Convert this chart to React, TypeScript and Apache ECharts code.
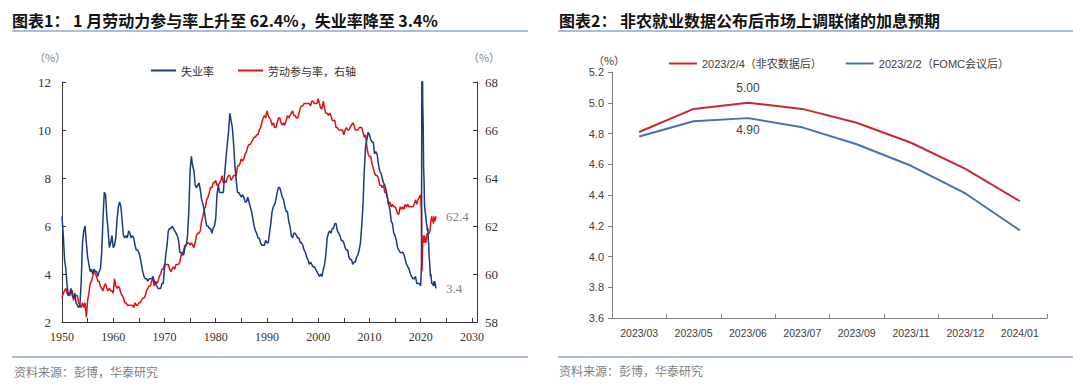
import React, { useEffect, useRef } from "react";
import * as echarts from "echarts";

// ---- Chart 1 data: US unemployment rate and labor force participation rate ----
// Quarterly values, 1950Q1 .. 2019Q4
const unemploymentQuarterly = [
  6.4, 5.6, 4.6, 4.2, 3.5, 3.1, 3.2, 3.4, 3.1, 3.0, 3.2, 2.8, 2.7, 2.6, 2.7, 3.7,
  5.3, 5.8, 6.0, 5.3, 4.7, 4.4, 4.1, 4.2, 4.0, 4.2, 4.1, 4.1, 3.9, 4.1, 4.2, 4.9,
  6.3, 7.4, 7.3, 6.4, 5.8, 5.1, 5.3, 5.6, 5.1, 5.2, 5.5, 6.3, 6.8, 7.0, 6.8, 6.2,
  5.6, 5.5, 5.6, 5.5, 5.8, 5.7, 5.5, 5.6, 5.5, 5.2, 5.0, 5.0, 4.9, 4.7, 4.4, 4.1,
  3.9, 3.8, 3.8, 3.7, 3.8, 3.8, 3.8, 3.9, 3.7, 3.6, 3.5, 3.4, 3.4, 3.4, 3.6, 3.6,
  4.2, 4.8, 5.2, 5.8, 5.9, 5.9, 6.0, 5.9, 5.8, 5.7, 5.6, 5.4, 4.9, 4.9, 4.8, 4.8,
  5.1, 5.2, 5.6, 6.6, 8.3, 8.9, 8.5, 8.3, 7.7, 7.6, 7.7, 7.8, 7.5, 7.1, 6.9, 6.7,
  6.3, 6.0, 6.0, 5.9, 5.9, 5.7, 5.9, 6.0, 6.3, 7.3, 7.7, 7.4, 7.4, 7.4, 7.4, 8.2,
  8.8, 9.4, 9.9, 10.7, 10.4, 10.1, 9.4, 8.5, 7.9, 7.4, 7.4, 7.3, 7.2, 7.3, 7.2, 7.0,
  7.0, 7.2, 7.0, 6.8, 6.6, 6.3, 6.0, 5.8, 5.7, 5.5, 5.5, 5.3, 5.2, 5.2, 5.2, 5.4,
  5.3, 5.3, 5.7, 6.1, 6.6, 6.8, 6.9, 7.1, 7.4, 7.6, 7.6, 7.4, 7.2, 7.1, 6.8, 6.6,
  6.6, 6.2, 6.0, 5.6, 5.5, 5.7, 5.7, 5.6, 5.5, 5.5, 5.3, 5.3, 5.2, 5.0, 4.9, 4.7,
  4.6, 4.4, 4.5, 4.4, 4.3, 4.3, 4.2, 4.1, 4.0, 3.9, 4.0, 3.9, 4.2, 4.4, 4.8, 5.5,
  5.7, 5.8, 5.7, 5.9, 5.9, 6.1, 6.1, 5.8, 5.7, 5.6, 5.4, 5.4, 5.3, 5.1, 5.0, 5.0,
  4.7, 4.6, 4.6, 4.4, 4.5, 4.5, 4.7, 4.8, 5.0, 5.3, 6.0, 6.9, 8.3, 9.3, 9.6, 9.9,
  9.8, 9.6, 9.5, 9.5, 9.0, 9.1, 9.0, 8.6, 8.3, 8.2, 8.0, 7.8, 7.7, 7.5, 7.2, 6.9,
  6.7, 6.2, 6.1, 5.7, 5.6, 5.4, 5.1, 5.0, 4.9, 4.9, 4.9, 4.8, 4.6, 4.4, 4.3, 4.2,
  4.0, 3.9, 3.8, 3.8, 3.9, 3.6, 3.6, 3.6,
];
// Monthly values, 2020-01 .. 2023-01
const unemploymentMonthly = [
  3.5, 3.5, 4.4, 14.7, 13.2, 11.0, 10.2, 8.4, 7.9, 6.9, 6.7, 6.7,
  6.4, 6.2, 6.1, 6.1, 5.8, 5.9, 5.4, 5.2, 4.7, 4.5, 4.2, 3.9,
  4.0, 3.8, 3.6, 3.6, 3.6, 3.6, 3.5, 3.7, 3.5, 3.7, 3.6, 3.5,
  3.4,
];
const participationQuarterly = [
  59.0, 59.2, 59.3, 59.4, 59.2, 59.1, 59.1, 59.3, 59.3, 58.9, 59.1, 59.1, 59.1, 58.8, 58.7, 58.6,
  58.8, 58.6, 58.8, 58.2, 58.9, 59.2, 59.6, 59.7, 59.9, 60.2, 60.0, 59.9, 59.7, 59.7, 59.5, 59.4,
  59.3, 59.5, 59.6, 59.4, 59.3, 59.4, 59.3, 59.3, 59.2, 59.8, 59.5, 59.4, 59.5, 59.4, 59.2, 59.1,
  59.0, 58.8, 58.8, 58.7, 58.7, 58.7, 58.7, 58.7, 58.6, 58.8, 58.7, 58.7, 58.8, 58.8, 58.9, 59.0,
  59.0, 59.1, 59.3, 59.4, 59.5, 59.5, 59.7, 59.8, 59.5, 59.7, 59.6, 59.7, 59.9, 60.0, 60.2, 60.2,
  60.4, 60.4, 60.4, 60.4, 60.2, 60.1, 60.2, 60.3, 60.2, 60.4, 60.4, 60.4, 60.5, 60.8, 60.8, 61.0,
  61.2, 61.2, 61.3, 61.3, 61.2, 61.3, 61.2, 61.1, 61.3, 61.6, 61.7, 61.7, 61.8, 62.2, 62.4, 62.7,
  62.8, 63.1, 63.2, 63.4, 63.6, 63.6, 63.8, 63.8, 63.9, 63.7, 63.7, 63.8, 63.9, 64.1, 63.8, 63.9,
  63.8, 64.0, 64.1, 64.1, 63.9, 64.0, 64.1, 64.1, 64.1, 64.5, 64.5, 64.6, 64.8, 64.7, 64.8, 65.0,
  65.1, 65.3, 65.4, 65.4, 65.5, 65.6, 65.7, 65.7, 65.8, 65.8, 66.0, 66.1, 66.3, 66.5, 66.6, 66.5,
  66.8, 66.6, 66.5, 66.4, 66.2, 66.3, 66.1, 66.1, 66.3, 66.5, 66.5, 66.3, 66.2, 66.3, 66.2, 66.4,
  66.6, 66.5, 66.6, 66.7, 66.8, 66.6, 66.6, 66.5, 66.5, 66.7, 66.9, 67.0, 67.0, 67.1, 67.1, 67.1,
  67.1, 67.1, 67.0, 67.2, 67.2, 67.1, 67.1, 67.1, 67.3, 67.1, 66.9, 66.9, 67.2, 66.9, 66.7, 66.7,
  66.6, 66.7, 66.6, 66.4, 66.4, 66.4, 66.1, 66.1, 66.0, 66.0, 66.0, 66.0, 65.8, 66.0, 66.1, 66.0,
  66.0, 66.1, 66.2, 66.3, 66.2, 66.0, 66.0, 66.0, 66.1, 66.1, 66.1, 65.9, 65.7, 65.8, 65.3, 65.0,
  64.9, 64.9, 64.6, 64.4, 64.2, 64.1, 64.1, 64.0, 63.7, 63.7, 63.6, 63.7, 63.4, 63.4, 63.2, 62.9,
  63.0, 62.8, 62.9, 62.8, 62.8, 62.7, 62.5, 62.5, 62.8, 62.7, 62.8, 62.7, 62.9, 62.8, 62.9, 62.8,
  62.8, 62.8, 62.8, 62.9, 63.1, 62.9, 63.1, 63.2,
];
const participationMonthly = [
  63.3, 63.3, 62.6, 60.1, 60.7, 61.3, 61.4, 61.6, 61.3, 61.6, 61.5, 61.5,
  61.3, 61.4, 61.5, 61.7, 61.6, 61.6, 61.7, 61.7, 61.7, 61.7, 61.8, 62.0,
  62.2, 62.3, 62.4, 62.2, 62.3, 62.2, 62.1, 62.4, 62.3, 62.2, 62.2, 62.3,
  62.4,
];
const quarterlyStartYear = 1950;
const monthlyStartYear = 2020;

// ---- Chart 2 data: market-implied fed funds path ----
const fedCategories = ["2023/03", "2023/05", "2023/06", "2023/07", "2023/09", "2023/11", "2023/12", "2024/01"];
const afterPayrolls = [4.81, 4.96, 5.0, 4.96, 4.87, 4.74, 4.57, 4.36];
const afterFomc = [4.78, 4.88, 4.9, 4.84, 4.73, 4.59, 4.41, 4.17];
const labeledIndex = 2;

const SERIF = '"Liberation Serif", "Times New Roman", "Noto Sans CJK SC", serif';
const CJK = '"Noto Sans CJK SC", sans-serif';
const SANS = '"Liberation Sans", Arial, "Noto Sans CJK SC", sans-serif';

export default function App() {
  const ref = useRef<HTMLDivElement>(null);

  useEffect(() => {
    if (!ref.current) return;
    const chart = echarts.init(ref.current, undefined, { renderer: "svg" });

    const urData = [
      ...unemploymentQuarterly.map((v, i) => [quarterlyStartYear + i / 4, v]),
      ...unemploymentMonthly.map((v, i) => [monthlyStartYear + i / 12, v]),
    ];
    const lfData = [
      ...participationQuarterly.map((v, i) => [quarterlyStartYear + i / 4, v]),
      ...participationMonthly.map((v, i) => [monthlyStartYear + i / 12, v]),
    ];

    const axisColor = "#404040";
    const pointLabel = (pos: string, dist: number) => ({
      show: true,
      position: pos,
      distance: dist,
      formatter: (p: any) => Number(p.value).toFixed(2),
      color: axisColor,
      fontFamily: SANS,
      fontSize: 12,
    });

    const option: any = {
      animation: false,
      backgroundColor: "#ffffff",
      grid: [
        { left: 62, right: 1080 - 477, top: 82, bottom: 390 - 322 },
        { left: 612, right: 1080 - 1047, top: 72, bottom: 390 - 318 },
      ],
      legend: [
        {
          data: ["失业率", "劳动参与率，右轴"],
          left: 146,
          top: 60,
          icon: "rect",
          itemWidth: 25,
          itemHeight: 2,
          itemGap: 24,
          textStyle: { fontFamily: CJK, fontSize: 11, color: "#333" },
        },
        {
          data: ["2023/2/4（非农数据后）", "2023/2/2（FOMC会议后）"],
          left: 664,
          top: 53,
          icon: "rect",
          itemWidth: 28,
          itemHeight: 2,
          itemGap: 24,
          textStyle: { fontFamily: SANS, fontSize: 11, color: "#404040" },
        },
      ],
      xAxis: [
        {
          type: "value",
          gridIndex: 0,
          min: 1950,
          max: 2031,
          interval: 5,
          axisLine: { show: true, lineStyle: { color: "#333", width: 1 } },
          axisTick: { show: true, inside: true, length: 4, lineStyle: { color: "#333" } },
          axisLabel: {
            color: "#333",
            fontFamily: SERIF,
            fontSize: 12,
            margin: 9,
            formatter: (v: number) => (v % 10 === 0 ? String(v) : ""),
          },
          splitLine: { show: false },
        },
        {
          type: "category",
          gridIndex: 1,
          data: fedCategories,
          boundaryGap: true,
          axisLine: { show: true, lineStyle: { color: "#7f7f7f", width: 1 } },
          axisTick: { show: true, inside: true, length: 4, lineStyle: { color: "#7f7f7f" } },
          axisLabel: { color: axisColor, fontFamily: SANS, fontSize: 10.5, margin: 10 },
        },
      ],
      yAxis: [
        {
          type: "value",
          gridIndex: 0,
          min: 2,
          max: 12,
          interval: 2,
          axisLine: { show: true, lineStyle: { color: "#333", width: 1 } },
          axisTick: { show: true, inside: true, length: 4, lineStyle: { color: "#333" } },
          axisLabel: { color: "#333", fontFamily: SERIF, fontSize: 13, margin: 11 },
          splitLine: { show: false },
        },
        {
          type: "value",
          gridIndex: 0,
          position: "right",
          min: 58,
          max: 68,
          interval: 2,
          axisLine: { show: true, lineStyle: { color: "#333", width: 1 } },
          axisTick: { show: true, inside: true, length: 4, lineStyle: { color: "#333" } },
          axisLabel: { color: "#333", fontFamily: SERIF, fontSize: 13, margin: 8 },
          splitLine: { show: false },
        },
        {
          type: "value",
          gridIndex: 1,
          min: 3.6,
          max: 5.2,
          interval: 0.2,
          axisLine: { show: true, lineStyle: { color: "#7f7f7f", width: 1 } },
          axisTick: { show: true, inside: false, length: 4, lineStyle: { color: "#7f7f7f" } },
          axisLabel: {
            color: axisColor,
            fontFamily: SANS,
            fontSize: 11,
            margin: 8,
            formatter: (v: number) => v.toFixed(1),
          },
          splitLine: { show: false },
        },
      ],
      series: [
        {
          name: "失业率",
          type: "line",
          xAxisIndex: 0,
          yAxisIndex: 0,
          data: urData,
          symbol: "none",
          lineStyle: { color: "#1c3a7e", width: 1.5 },
          itemStyle: { color: "#1c3a7e" },
          z: 3,
          endLabel: {
            show: true,
            distance: 10,
            formatter: (p: any) => p.value[1].toFixed(1),
            color: "#7f7f7f",
            fontFamily: SERIF,
            fontSize: 13,
          },
        },
        {
          name: "劳动参与率，右轴",
          type: "line",
          xAxisIndex: 0,
          yAxisIndex: 1,
          data: lfData,
          symbol: "none",
          lineStyle: { color: "#e01010", width: 1.5 },
          itemStyle: { color: "#e01010" },
          z: 2,
          endLabel: {
            show: true,
            distance: 10,
            formatter: (p: any) => p.value[1].toFixed(1),
            color: "#7f7f7f",
            fontFamily: SERIF,
            fontSize: 13,
          },
        },
        {
          name: "2023/2/4（非农数据后）",
          type: "line",
          xAxisIndex: 1,
          yAxisIndex: 2,
          symbol: "circle",
          symbolSize: 0,
          showSymbol: true,
          data: afterPayrolls.map((v, i) =>
            i === labeledIndex ? { value: v, label: pointLabel("top", 9) } : v
          ),
          lineStyle: { color: "#c9282d", width: 2 },
          itemStyle: { color: "#c9282d" },
        },
        {
          name: "2023/2/2（FOMC会议后）",
          type: "line",
          xAxisIndex: 1,
          yAxisIndex: 2,
          symbol: "circle",
          symbolSize: 0,
          showSymbol: true,
          data: afterFomc.map((v, i) =>
            i === labeledIndex ? { value: v, label: pointLabel("bottom", 6) } : v
          ),
          lineStyle: { color: "#4a70b0", width: 2 },
          itemStyle: { color: "#4a70b0" },
        },
      ],
      graphic: [
        {
          type: "text",
          x: 12,
          y: 20,
          style: {
            text: "图表1： 1 月劳动力参与率上升至 62.4%，失业率降至 3.4%",
            fill: "#111",
            font: `bold 16px ${CJK}`,
            verticalAlign: "middle",
          },
        },
        {
          type: "text",
          x: 559,
          y: 20,
          style: {
            text: "图表2： 非农就业数据公布后市场上调联储的加息预期",
            fill: "#111",
            font: `bold 16px ${CJK}`,
            verticalAlign: "middle",
          },
        },
        { type: "line", shape: { x1: 12, y1: 31, x2: 528, y2: 31 }, style: { stroke: "#8fa9c8", lineWidth: 1.5 } },
        { type: "line", shape: { x1: 558, y1: 31, x2: 1073, y2: 31 }, style: { stroke: "#8fa9c8", lineWidth: 1.5 } },
        { type: "line", shape: { x1: 12, y1: 357, x2: 528, y2: 357 }, style: { stroke: "#8fa9c8", lineWidth: 1.5 } },
        { type: "line", shape: { x1: 558, y1: 357, x2: 1073, y2: 357 }, style: { stroke: "#8fa9c8", lineWidth: 1.5 } },
        {
          type: "text",
          x: 50,
          y: 57,
          style: { text: "（%）", fill: "#7f7f7f", font: `11px ${CJK}`, align: "center", verticalAlign: "middle" },
        },
        {
          type: "text",
          x: 484,
          y: 57,
          style: { text: "（%）", fill: "#7f7f7f", font: `11px ${CJK}`, align: "center", verticalAlign: "middle" },
        },
        {
          type: "text",
          x: 609,
          y: 60,
          style: { text: "（%）", fill: "#404040", font: `11px ${CJK}`, align: "center", verticalAlign: "middle" },
        },
        {
          type: "text",
          x: 14,
          y: 371,
          style: { text: "资料来源：彭博，华泰研究", fill: "#7f7f7f", font: `12px ${CJK}`, verticalAlign: "middle" },
        },
        {
          type: "text",
          x: 559,
          y: 370,
          style: { text: "资料来源：彭博，华泰研究", fill: "#7f7f7f", font: `12px ${CJK}`, verticalAlign: "middle" },
        },
      ],
    };

    chart.setOption(option);
    return () => chart.dispose();
  }, []);

  return (
    <div
      ref={ref}
      style={{ position: "absolute", left: 0, top: 0, width: 1080, height: 390, background: "#fff" }}
    />
  );
}
